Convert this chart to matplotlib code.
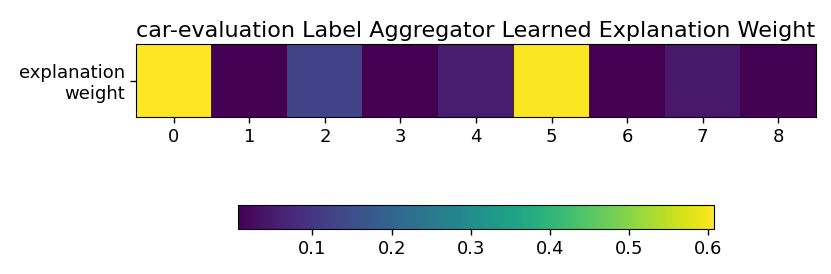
import numpy as np
import matplotlib.pyplot as plt

dataset = "car-evaluation"
row_labels = ["explanation\nweight"]
col_labels = [str(i) for i in range(9)]
weights = [0.607, 0.006, 0.128, 0.007, 0.052, 0.603, 0.006, 0.047, 0.009]

fig = plt.figure(figsize=(8.31, 2.74), dpi=100)
ax = fig.add_axes([136 / 831, 1 - 117 / 274, 680 / 831, 73 / 274])
cax = fig.add_axes([238 / 831, 1 - 229 / 274, 476 / 831, 24 / 274])

data = np.array([weights])
im = ax.imshow(data, cmap="viridis", aspect="auto")
ax.set_xticks(range(len(col_labels)))
ax.set_xticklabels(col_labels, fontsize=13)
ax.set_yticks(range(len(row_labels)))
ax.set_yticklabels(row_labels, fontsize=13)
ax.tick_params(length=4.5, width=1)
ax.set_title(f"{dataset} Label Aggregator Learned Explanation Weight",
             fontsize=16, pad=5)

cb = fig.colorbar(im, cax=cax, orientation="horizontal")
cb.ax.tick_params(labelsize=13, length=4.5, width=1)

fig.savefig("out.png", dpi=100)
